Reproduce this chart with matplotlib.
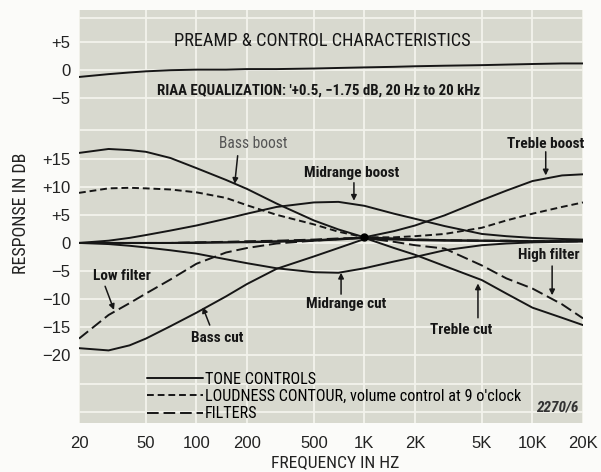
import numpy as np
import matplotlib
matplotlib.use("Agg")
import matplotlib.pyplot as plt

freq = [20, 30, 40, 50, 70, 100, 150, 200, 300, 500, 700, 1000,
        1500, 2000, 3000, 5000, 7000, 10000, 15000, 20000]
# RIAA curve, relative to its own (upper) zero
riaa = [-1.2, -0.7, -0.4, -0.2, 0.0, 0.1, 0.1, 0.2, 0.2, 0.3, 0.4, 0.5,
        0.6, 0.7, 0.8, 0.9, 1.0, 1.1, 1.2, 1.2]
bass_boost = [16.0, 16.7, 16.5, 16.2, 15.1, 13.3, 11.2, 9.6, 7.0, 4.0, 2.4,
              1.0, 0.8, 0.6, 0.5, 0.4, 0.4, 0.3, 0.3, 0.3]
bass_cut = [-18.7, -19.1, -18.2, -17.0, -14.8, -12.4, -9.5, -7.3, -4.6,
            -2.4, -0.9, 0.7, 0.6, 0.5, 0.4, 0.4, 0.3, 0.3, 0.3, 0.3]
mid_boost = [0.0, 0.4, 0.9, 1.4, 2.2, 3.1, 4.3, 5.2, 6.4, 7.2, 7.3, 6.6,
             5.2, 4.3, 3.0, 1.6, 1.2, 0.9, 0.7, 0.6]
mid_cut = [0.0, -0.2, -0.5, -0.8, -1.3, -1.9, -2.9, -3.6, -4.5, -5.2, -5.3,
           -4.5, -3.3, -2.5, -1.3, -0.4, -0.1, 0.1, 0.2, 0.3]
treble_boost = [0.0, 0.0, 0.0, 0.0, 0.0, 0.1, 0.1, 0.2, 0.3, 0.5, 0.7, 1.0,
                2.1, 3.1, 4.9, 7.6, 9.3, 11.0, 12.0, 12.2]
treble_cut = [0.0, 0.0, 0.0, 0.0, 0.0, 0.0, 0.1, 0.1, 0.2, 0.4, 0.6, 0.9,
              -0.9, -2.1, -4.1, -6.6, -9.0, -11.5, -13.3, -14.6]
loudness = [8.9, 9.7, 9.8, 9.7, 9.5, 9.0, 8.0, 6.7, 5.0, 3.3, 2.0, 1.0,
            1.0, 1.2, 1.6, 2.7, 4.0, 5.2, 6.4, 7.2]
low_filter = [-17.0, -12.8, -10.7, -9.0, -6.5, -3.7, -1.7, -0.9, -0.1, 0.4,
              0.7, 0.9, 0.7, 0.6, 0.5, 0.4, 0.4, 0.3, 0.3, 0.3]
high_filter = [0.0, 0.0, 0.0, 0.0, 0.0, 0.1, 0.2, 0.3, 0.4, 0.6, 0.8, 0.9,
               0.2, -0.4, -1.0, -4.0, -6.3, -8.1, -10.9, -13.4]
# crossover point of the tone curves
node_freq = [1000]
node_db = [1.0]

# axis labelling
x_ticks = [20, 50, 100, 200, 500, 1000, 2000, 5000, 10000, 20000]
x_tick_labels = ["20", "50", "100", "200", "500", "1K", "2K", "5K", "10K",
                 "20K"]
lower_ticks = [-20, -15, -10, -5, 0, 5, 10, 15]
lower_tick_labels = ["\u221220", "\u221215", "\u221210", "\u22125", "0",
                     "+5", "+10", "+15"]
upper_ticks = [-5, 0, 5]
upper_tick_labels = ["\u22125", "0", "+5"]
# the RIAA strip is drawn this many dB above the tone-control zero
riaa_offset = 30.7

plt.rcParams['font.family'] = ['Roboto Condensed', 'Liberation Sans',
                               'DejaVu Sans']
INK = "#161616"
BG = "#d8d9cf"
TICK_FONT = ["Liberation Sans", "DejaVu Sans"]


def run():
    fig = plt.figure(figsize=(6.01, 4.72), dpi=100)
    fig.patch.set_facecolor("#fbfbf9")
    ax = fig.add_axes([79 / 601, 1 - 423 / 472, 504 / 601, 413 / 472])
    ax.set_facecolor(BG)
    ax.set_xscale("log")
    ax.set_xlim(20, 20000)
    ax.set_ylim(-32.0, 41.4)
    for s in ax.spines.values():
        s.set_visible(False)

    lw = 1.4
    solid = dict(color=INK, lw=lw, solid_capstyle="round")
    riaa_y = np.array(riaa) + riaa_offset
    ax.plot(freq, riaa_y, **solid)
    tone, = ax.plot(freq, bass_boost, **solid)
    for curve in [bass_cut, mid_boost, mid_cut, treble_boost, treble_cut]:
        ax.plot(freq, curve, **solid)
    loud, = ax.plot(freq, loudness, color=INK, lw=lw, ls=(0, (3.5, 2)))
    filt, = ax.plot(freq, low_filter, color=INK, lw=lw, ls=(0, (6, 2.5)))
    ax.plot(freq, high_filter, color=INK, lw=lw, ls=(0, (6, 2.5)))
    ax.plot(node_freq, node_db, "o", color="k", ms=5)

    # ticks: tone section plus the RIAA strip above it
    yt = lower_ticks + [t + riaa_offset for t in upper_ticks]
    ax.set_yticks(yt)
    ax.set_yticklabels(lower_tick_labels + upper_tick_labels)
    ax.set_yticks([-30, -25, 20, 40], minor=True)
    ax.set_xticks(x_ticks)
    ax.set_xticklabels(x_tick_labels)
    ax.xaxis.set_minor_locator(matplotlib.ticker.NullLocator())
    ax.tick_params(axis="both", which="both", length=0, labelcolor="#222222",
                   labelsize=12)
    ax.tick_params(axis="y", pad=6)
    ax.tick_params(axis="x", pad=9)
    for lab in ax.get_xticklabels() + ax.get_yticklabels():
        lab.set_family(TICK_FONT)
    ax.grid(True, which="both", color="#f3f3ec", lw=1.3)
    ax.set_axisbelow(True)

    fig.text(21 / 601, 1 - 213 / 472, "RESPONSE IN DB", rotation=90,
             ha="center", va="center", fontsize=13, color="#222222")
    fig.text(335 / 601, 1 - 463 / 472, "FREQUENCY IN HZ", ha="center",
             va="center", fontsize=12.6, color="#222222")

    ax.text(0.482, 0.925, "PREAMP & CONTROL CHARACTERISTICS",
            transform=ax.transAxes, ha="center", va="center", fontsize=13.2,
            color=INK)
    ax.text(0.155, 0.806,
            "RIAA EQUALIZATION: '+0.5, \u22121.75 dB, 20 Hz to 20 kHz",
            transform=ax.transAxes, ha="left", va="center", fontsize=10.7,
            fontweight="bold", color=INK)

    # curve labels with their pointer arrows
    notes = [
        ("Bass boost", (217, 17.6), (176, 15.5), (169, 10.5), "#555555"),
        ("Midrange boost", (842, 12.4), (866, 10.7), (866, 7.5), INK),
        ("Treble boost", (12000, 17.6), (12000, 16.2), (12000, 12.0), INK),
        ("Low filter", (36, -5.8), (28.6, -7.7), (32.3, -11.9), INK),
        ("High filter", (12500, -2.2), (13100, -4.1), (13100, -9.3), INK),
        ("Midrange cut", (776, -10.8), (726, -9.1), (726, -5.3), INK),
        ("Bass cut", (133, -16.9), (120, -14.6), (109, -11.4), INK),
        ("Treble cut", (3770, -15.5), (4740, -13.3), (4740, -7.2), INK),
    ]
    for label, txy, start, tip, col in notes:
        ax.text(txy[0], txy[1], label, ha="center", va="center",
                fontsize=11.2 if col != INK else 11, color=col,
                fontweight="normal" if col != INK else "semibold")
        ax.annotate("", xy=tip, xytext=start,
                    arrowprops=dict(arrowstyle="-|>", color=INK, lw=1.1,
                                    mutation_scale=8, shrinkA=0, shrinkB=0))

    ax.legend([tone, loud, filt],
              ["TONE CONTROLS",
               "LOUDNESS CONTOUR, volume control at 9 o'clock",
               "FILTERS"],
              loc="lower left", bbox_to_anchor=(0.131, 0.0), frameon=False,
              fontsize=11.6, handlelength=3.5, handletextpad=0.1,
              borderpad=0.1, labelspacing=0.15, borderaxespad=0.0)
    ax.text(0.99, 0.02, "2270/6", transform=ax.transAxes, ha="right",
            va="bottom", fontsize=11, fontstyle="italic", fontweight="bold",
            color="#333333")

    fig.savefig("out.png", dpi=100, facecolor=fig.get_facecolor())


if __name__ == "__main__":
    run()
